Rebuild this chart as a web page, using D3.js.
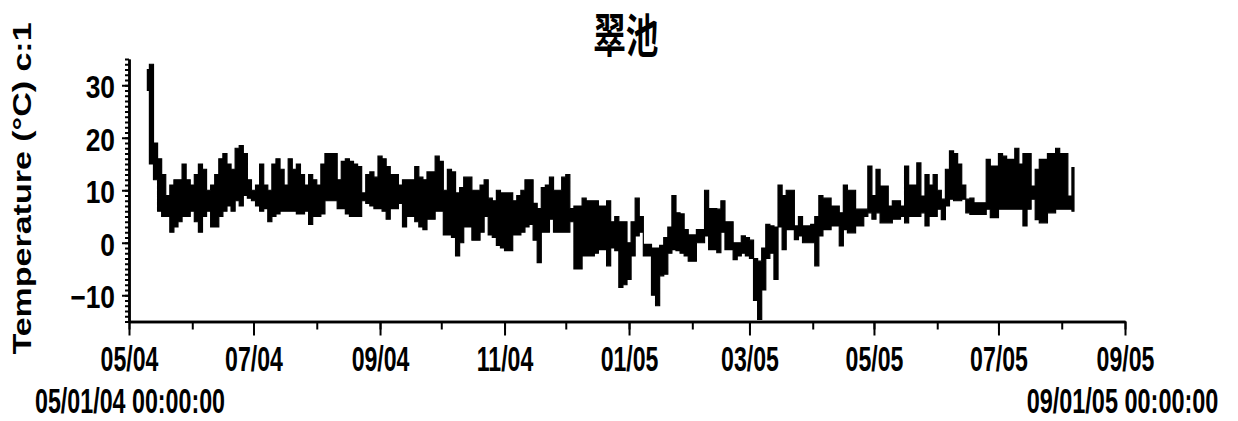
<!DOCTYPE html>
<html><head><meta charset="utf-8">
<script src="https://cdn.jsdelivr.net/npm/d3@7"></script>
<style>body{margin:0;background:#fff}svg{display:block}</style>
</head><body>
<svg id="c" width="1238" height="421"></svg>
<script>
const title = "翠池";
const yLabel = "Temperature (°C) c:1";
const startLabel = "05/01/04 00:00:00";
const endLabel = "09/01/05 00:00:00";
const xTickLabels = ["05/04","07/04","09/04","11/04","01/05","03/05","05/05","07/05","09/05"];
const yTickValues = [-10, 0, 10, 20, 30];
// readings every 2 days starting 2004-05-10 (day 9 after 05/01/04): high & low (°C)
const firstDayOffset = 9;
const stepDays = 2;
const highs = [33,34,19,16,13,9,11,12,12,15,12,11,13,15,14,10,11,13,16,17,15,14,18,18.5,17,12,10,11,15,11,
10,15,16,14,11,16,14,15,13,11,13,12,11,15,17,17,17,12,15.5,16,15.5,15,14.5,9.5,13,13.5,12.5,16.5,16,14.5,
13,13,11,12,12,12,14.5,12.5,12,13.5,13.5,16.5,15.5,10,14,13.5,9.5,10.5,12.5,12.5,10,10,11,12,8.5,8,10,9.5,9.5,9.5,
8,9,10,12,12,7.5,6.5,10.5,11,12.5,10,10,12.5,13,6.5,7,7,8.5,8,8,8,7,7,8,4,5,4,4,0,4,8.5,5,-0.3,-0.3,-1,-1,-0.5,1,3,9,5.7,5.5,2.5,1.5,1.5,2.5,2.5,10,6.5,6.5,
6.4,8,4,4,0,0,1.3,1,0.5,-3,-3.5,-1,3.5,3.2,3,11,9,10,10,3.2,5,3.2,3.2,3.5,5,9,8.5,8.5,7,7,5.7,11,10,10,6.4,6.4,6.4,14.6,9,14,10.8,10.8,7,8,8,
7,14.6,11,11,15.2,8.9,13,11,13,10,8.3,14,17.5,17,15,11,8.3,8.5,7.6,7.6,7.6,15.9,14.6,14.6,17,16.5,15.9,15.9,18,15,17,17,10.8,14,15.9,15.9,17,17,18,17,17,8.9,14.3];
const lows = [29,15,12,6,5,5,2,3,4,5,5,6,4,2,5,6,3,3,5,6,7,6,8,7,9,8.5,8,7,6,6.5,
4,5,5.5,6,6,6,6,5.5,5.5,6,3.5,5,5,5.5,8,8,8,6.5,6.5,5.5,5,5,5,8,7.5,7,6.5,6.5,6,4.5,
6.5,6.5,7.5,3,5,5,4,3,2.5,4.5,4.5,6,6,1.5,1.5,1,-2.5,0,3,3,0.5,0.5,2,5,1.5,1,-0.5,-1,-1.5,-1.5,
1.5,1.5,2,3,3.5,0.5,-3.8,2,2,4.5,2,2,2,2,4,-5,-5,-2.5,-2.5,-2.5,-2,-1.3,-1.3,-4.4,-1,-1.5,-8.5,-8,-7,-2.5,1.3,2,-2.5,-2.5,-10,-12,-6.3,-6,-2,-1.3,-1.5,-2,-2.5,-3.5,-3.5,0,0,1.3,-1.3,-1.3,
-1.9,2,-1.3,-1.3,-3.2,-2.5,-2,-2.5,-3,-11,-14.6,-9,-3,-2,-7,3,-1.3,2.5,2.5,0.6,1.3,0,0,0,-4.4,1.3,2.5,2.5,3.2,3.2,-0.6,2.5,1.9,1.9,3.2,3.2,5,5.7,4.5,5.7,3.8,3.8,3.8,4.5,4.5,
5,3.8,5,5,5,5.7,3.2,5,5,6.4,4.4,7,8.3,8,8,8.3,5.7,5.4,5.4,5.4,5.4,6.4,4.8,4.8,6.4,6.4,6.4,6.4,6.4,6.4,3.2,6.4,8.3,4.4,3.8,3.8,5.7,5.7,6.4,6.4,6.4,6.4,6];

const FONT = '"Liberation Sans", Arial, Helvetica, sans-serif';
const svg = d3.select('#c');
const t0 = new Date(Date.UTC(2004,4,1)), t1 = new Date(Date.UTC(2005,8,1));
const x = d3.scaleUtc().domain([t0, t1]).range([129, 1125]);
const y = d3.scaleLinear().domain([-15, 35]).range([321.5, 59]);

// data series: solid band between low and high readings
const pts = highs.map((h, i) => ({ date: d3.utcDay.offset(t0, firstDayOffset + i*stepDays), hi: h, lo: lows[i] }));
svg.append('path').datum(pts)
  .attr('d', d3.area().x(p => x(p.date)).y0(p => y(p.lo)).y1(p => y(p.hi)).curve(d3.curveStep))
  .attr('fill','#000').attr('stroke','#000').attr('stroke-width',1.2).attr('stroke-linejoin','miter');

// X axis
const months = d3.utcMonth.range(t0, d3.utcDay.offset(t1,1));
const majorMonths = months.filter((d,i) => i % 2 === 0);
const gxMinor = svg.append('g').attr('transform',`translate(0,${y(-15)})`)
  .call(d3.axisBottom(x).tickValues(months).tickSize(8).tickSizeOuter(0).tickFormat(''));
const gx = svg.append('g').attr('transform',`translate(0,${y(-15)})`)
  .call(d3.axisBottom(x).tickValues(majorMonths).tickSize(14).tickSizeOuter(0).tickFormat((d,i) => xTickLabels[i]));
gx.attr('font-family', FONT);
gx.selectAll('text').attr('y', 50).attr('dy', 0).attr('font-size', 35).attr('font-weight','bold')
  .attr('fill','#000').attr('transform','scale(0.66,1)');

// Y axis
const gyMinor = svg.append('g').attr('transform','translate(129,0)')
  .call(d3.axisLeft(y).tickValues(d3.range(-15, 36, 1)).tickSize(4).tickSizeOuter(0).tickFormat(''));
const gy = svg.append('g').attr('transform','translate(129,0)')
  .call(d3.axisLeft(y).tickValues(yTickValues).tickSize(7).tickSizeOuter(0).tickFormat(d3.format('d')));
gy.attr('font-family', FONT);
gy.selectAll('text').attr('x', -14/0.85).attr('dy', 12.5).attr('font-size', 31).attr('font-weight','bold')
  .attr('fill','#000').attr('transform','scale(0.85,1)');

[gxMinor, gx, gyMinor, gy].forEach(g => {
  g.select('.domain').attr('stroke','#000').attr('stroke-width',2.5);
  g.selectAll('.tick line').attr('stroke','#000').attr('stroke-width',2);
});

// Title
svg.append('text').attr('transform','translate(625.8,52) scale(0.71,1)').attr('text-anchor','middle')
  .attr('font-family','"Noto Sans CJK TC","Noto Sans CJK SC",sans-serif').attr('font-weight','bold')
  .attr('font-size', 46).text(title);

// Y label
svg.append('text').attr('transform','translate(31,188.5) rotate(-90) scale(1.36,1)').attr('text-anchor','middle')
  .attr('font-family', FONT).attr('font-weight','bold').attr('font-size', 25).text(yLabel);

// Bottom range labels
svg.append('text').attr('transform','translate(130,413) scale(0.646,1)').attr('text-anchor','middle')
  .attr('font-family', FONT).attr('font-weight','bold').attr('font-size', 36).text(startLabel);
svg.append('text').attr('transform','translate(1122.5,413) scale(0.652,1)').attr('text-anchor','middle')
  .attr('font-family', FONT).attr('font-weight','bold').attr('font-size', 36).text(endLabel);
</script>
</body></html>
